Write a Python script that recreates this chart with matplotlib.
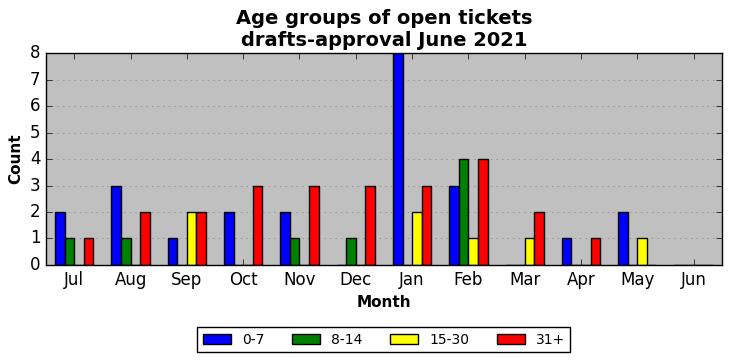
import numpy as np
import matplotlib
matplotlib.use("Agg")
import matplotlib.pyplot as plt

plt.style.use("classic")

months = ["Jul", "Aug", "Sep", "Oct", "Nov", "Dec", "Jan", "Feb", "Mar", "Apr", "May", "Jun"]
groups = ["0-7", "8-14", "15-30", "31+"]
colors = ["blue", "green", "yellow", "red"]

age_0_7 = [2, 3, 1, 2, 2, 0, 8, 3, 0, 1, 2, 0]
age_8_14 = [1, 1, 0, 0, 1, 1, 0, 4, 0, 0, 0, 0]
age_15_30 = [0, 0, 2, 0, 0, 0, 2, 1, 1, 0, 1, 0]
age_31_plus = [1, 2, 2, 3, 3, 3, 3, 4, 2, 1, 0, 0]
series = [age_0_7, age_8_14, age_15_30, age_31_plus]

fig = plt.figure(figsize=(7.32, 3.61), dpi=100, facecolor="white")
ax = fig.add_axes([0.063, 0.266, 0.923, 0.587])
ax.set_facecolor("#c0c0c0")

x = np.arange(len(months))
w = 0.17
for i, (vals, name, c) in enumerate(zip(series, groups, colors)):
    ax.bar(x + (i - 2) * w, vals, w, color=c, edgecolor="black",
           linewidth=1, label=name, align="edge")

ax.set_xlim(-0.5, 11.5)
ax.set_ylim(0, 8)
ax.set_xticks(x)
ax.set_xticklabels(months)
ax.set_yticks(range(9))
ax.tick_params(labelsize=12)
ax.yaxis.grid(True, linestyle=":", color="gray")
ax.set_axisbelow(True)
ax.set_xlabel("Month", fontsize=11, fontweight="bold")
ax.set_ylabel("Count", fontsize=11, fontweight="bold")
ax.set_title("Age groups of open tickets\ndrafts-approval June 2021",
             fontsize=14, fontweight="bold")

ax.legend(loc="upper center", bbox_to_anchor=(0.5, -0.26), ncol=4,
          fontsize=10, frameon=True, fancybox=False, handlelength=2,
          columnspacing=2)

fig.savefig("out.png", dpi=100, facecolor="white")
